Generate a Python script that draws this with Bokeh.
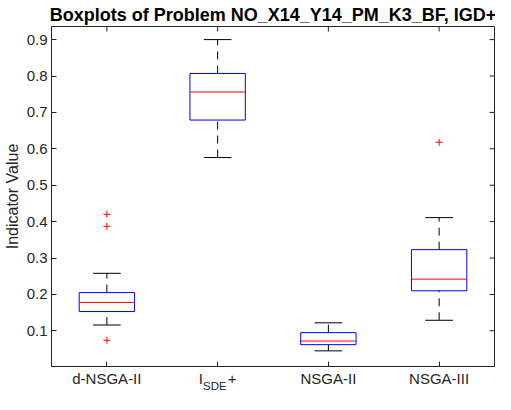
import math
from bokeh.plotting import figure
from bokeh.models import ColumnDataSource, Range1d, FixedTicker, LinearAxis
from bokeh.embed import file_html
from bokeh.resources import INLINE

# ---- data ----
categories = ["d-NSGA-II", "I_SDE+", "NSGA-II", "NSGA-III"]
positions = [1, 2, 3, 4]
lower_whisker = [0.116, 0.576, 0.045, 0.129]
q1 = [0.153, 0.679, 0.062, 0.210]
median = [0.178, 0.756, 0.072, 0.242]
q3 = [0.205, 0.807, 0.095, 0.323]
upper_whisker = [0.258, 0.900, 0.122, 0.411]
outlier_pos = [1, 1, 1, 4]
outlier_val = [0.420, 0.387, 0.074, 0.618]
y_ticks = [0.1, 0.2, 0.3, 0.4, 0.5, 0.6, 0.7, 0.8, 0.9]

BOX_W = 0.5
CAP_W = 0.25
FONT = "Liberation Sans"
AX = "#262626"
X0, X1 = 0.5, 4.5
Y0, Y1 = 0.002, 0.936
NB = "\u00a0"
SUB_SHIFT = 0.025  # shifts the subscript a few pixels to the left

src = ColumnDataSource(dict(
    x=positions, lw=lower_whisker, q1=q1, med=median, q3=q3, uw=upper_whisker,
    left=[p - BOX_W / 2 for p in positions], right=[p + BOX_W / 2 for p in positions],
    cl=[p - CAP_W / 2 for p in positions], cr=[p + CAP_W / 2 for p in positions],
))
osrc = ColumnDataSource(dict(x=outlier_pos, y=outlier_val))

p = figure(width=495, height=394, output_backend="svg", toolbar_location=None,
           x_range=Range1d(X0, X1), y_range=Range1d(Y0, Y1),
           min_border_left=47, min_border_right=1, min_border_top=26, min_border_bottom=10)
p.extra_x_ranges = {"sub": Range1d(X0 + SUB_SHIFT, X1 + SUB_SHIFT)}

p.title.text = "Boxplots of Problem NO_X14_Y14_PM_K3_BF, IGD+"
p.title.text_font = FONT
p.title.text_font_size = "18px"
p.title.text_font_style = "bold"
p.title.text_color = "#000000"
p.title.align = "center"
p.title.offset = 2
p.title.standoff = 4

p.grid.visible = False
p.outline_line_color = AX
p.outline_line_width = 1
p.background_fill_color = "white"
p.border_fill_color = "white"

# whiskers (dashed)
p.segment(x0="x", y0="q3", x1="x", y1="uw", source=src, line_color="black",
          line_width=1, line_dash="8 6")
p.segment(x0="x", y0="lw", x1="x", y1="q1", source=src, line_color="black",
          line_width=1, line_dash="8 6")
# caps
p.segment(x0="cl", y0="uw", x1="cr", y1="uw", source=src, line_color="black", line_width=1)
p.segment(x0="cl", y0="lw", x1="cr", y1="lw", source=src, line_color="black", line_width=1)
# boxes
p.quad(left="left", right="right", bottom="q1", top="q3", source=src,
       fill_color=None, line_color="#0000FF", line_width=1)
# medians
p.segment(x0="left", y0="med", x1="right", y1="med", source=src, line_color="#FF0000", line_width=1)
# outliers
p.scatter(x="x", y="y", source=osrc, marker="cross", size=7, line_color="#FF0000", line_width=1)

# inward ticks on the top and right frame edges (half of each dash is clipped by the frame)
p.scatter(x=positions, y=[Y1] * len(positions), marker="dash", angle=math.pi / 2,
          size=10, line_color=AX, line_width=1)
p.scatter(x=[X1] * len(y_ticks), y=y_ticks, marker="dash", size=10, line_color=AX, line_width=1)

for ax in (p.xaxis[0], p.yaxis[0]):
    ax.axis_line_color = AX
    ax.major_tick_line_color = AX
    ax.major_tick_in = 5
    ax.major_tick_out = 0
    ax.minor_tick_line_color = None
    ax.major_label_text_font = FONT
    ax.major_label_text_font_size = "15px"
    ax.major_label_text_color = AX

p.xaxis.ticker = FixedTicker(ticks=positions)
# "I" and "+" of I_SDE+ on the base line; the subscript comes from a second axis below
p.xaxis.major_label_overrides = {1: categories[0], 2: "I" + NB * 6 + "+",
                                 3: categories[2], 4: categories[3]}
p.xaxis.major_label_standoff = 3

sub_ax = LinearAxis(x_range_name="sub", ticker=FixedTicker(ticks=[2]),
                    major_label_overrides={2: "SDE"})
sub_ax.axis_line_color = None
sub_ax.major_tick_line_color = None
sub_ax.minor_tick_line_color = None
sub_ax.major_tick_in = 0
sub_ax.major_tick_out = 0
sub_ax.major_label_text_font = FONT
sub_ax.major_label_text_font_size = "11.5px"
sub_ax.major_label_text_color = AX
sub_ax.major_label_standoff = -10
p.add_layout(sub_ax, "below")

p.yaxis.ticker = FixedTicker(ticks=y_ticks)
p.yaxis.major_label_overrides = {t: f"{t:.1f}" for t in y_ticks}
p.yaxis.major_label_standoff = 4
p.yaxis.axis_label = "Indicator Value"
p.yaxis.axis_label_text_font = FONT
p.yaxis.axis_label_text_font_size = "16px"
p.yaxis.axis_label_text_font_style = "normal"
p.yaxis.axis_label_text_color = AX
p.yaxis.axis_label_standoff = 3

open("out.html", "w").write(file_html(p, INLINE))
